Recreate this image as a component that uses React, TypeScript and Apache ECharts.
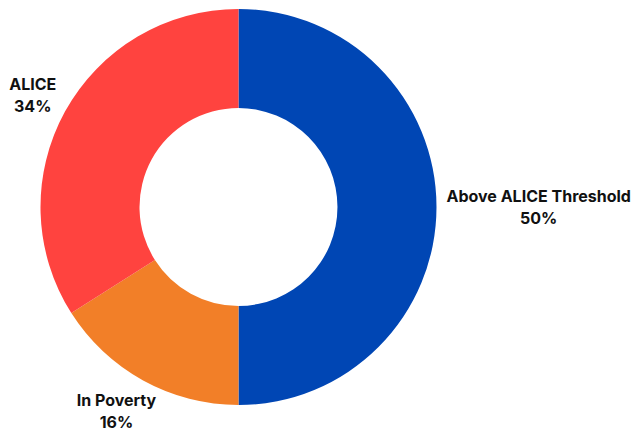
import React, { useEffect, useRef } from "react";
import * as echarts from "echarts";

const categories = ["Above ALICE Threshold", "In Poverty", "ALICE"];
const values = [50, 16, 34];
const colors = ["#0046b4", "#f27f28", "#ff433f"];

const CX = 238.5;
const CY = 207;
const R_OUT = 198;
const R_IN = 99;
const LABEL_OFFSET = 10;

export default function App() {
  const ref = useRef<HTMLDivElement>(null);
  useEffect(() => {
    if (!ref.current) return;
    const chart = echarts.init(ref.current, undefined, { renderer: "svg" });
    const total = values.reduce((a, b) => a + b, 0);
    const mids: number[] = [];
    let cum = 0;
    values.forEach((v) => {
      mids.push(((cum + v / 2) / total) * Math.PI * 2);
      cum += v;
    });
    chart.setOption({
      animation: false,
      backgroundColor: "#ffffff",
      series: [
        {
          type: "pie",
          center: [CX, CY],
          radius: [R_IN, R_OUT],
          startAngle: 90,
          clockwise: true,
          silent: true,
          avoidLabelOverlap: false,
          data: categories.map((c, i) => ({
            name: c,
            value: values[i],
            itemStyle: { color: colors[i] },
          })),
          label: {
            show: true,
            position: "outside",
            formatter: "{b}\n{d}%",
            fontFamily: "Inter",
            fontWeight: "bold",
            fontSize: 16,
            lineHeight: 22,
            color: "#111111",
            align: "center",
            overflow: "none",
          },
          labelLine: { show: false },
          labelLayout: (params: any) => {
            const i = params.dataIndex;
            const a = mids[i];
            const vx = Math.sin(a);
            const vy = -Math.cos(a);
            const ax = CX + R_OUT * vx;
            const ay = CY + R_OUT * vy;
            const w = params.labelRect.width;
            const h = params.labelRect.height;
            const vs = 1 / Math.max(Math.abs(vx), Math.abs(vy));
            const x = ax + (w / 2) * vx * vs + LABEL_OFFSET * vx;
            const y = ay + (h / 2) * vy * vs + LABEL_OFFSET * vy;
            return { x, y, align: "center", verticalAlign: "middle", hideOverlap: false };
          },
        },
      ],
    });
    return () => chart.dispose();
  }, []);
  return (
    <div
      ref={ref}
      style={{ position: "fixed", left: 0, top: 0, width: 636, height: 440 }}
    />
  );
}
